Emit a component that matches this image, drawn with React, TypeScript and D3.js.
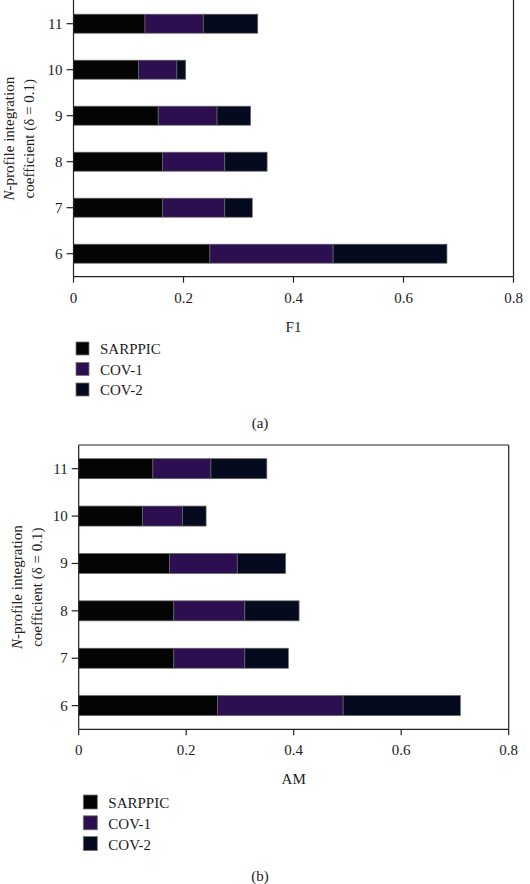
import React from "react";
import * as d3 from "d3";

const categories = ["6", "7", "8", "9", "10", "11"];
const seriesNames = ["SARPPIC", "COV-1", "COV-2"];
const seriesColors = ["#040404", "#2c0f50", "#060a1f"];

// Panel (a) F1 — segment values per category (6..11)
const f1Sarppic = [0.248, 0.162, 0.162, 0.154, 0.118, 0.130];
const f1Cov1 = [0.224, 0.113, 0.113, 0.107, 0.070, 0.106];
const f1Cov2 = [0.207, 0.050, 0.077, 0.061, 0.016, 0.099];

// Panel (b) AM — segment values per category (6..11)
const amSarppic = [0.258, 0.177, 0.177, 0.169, 0.119, 0.138];
const amCov1 = [0.234, 0.132, 0.132, 0.126, 0.074, 0.108];
const amCov2 = [0.218, 0.081, 0.101, 0.090, 0.044, 0.104];

const xTicks = [0, 0.2, 0.4, 0.6, 0.8];
const xTickLabels = ["0", "0.2", "0.4", "0.6", "0.8"];

const FONT = "'Liberation Serif', 'Times New Roman', serif";

type PanelProps = {
  values: number[][];
  xLabel: string;
  caption: string;
  left: number;
  right: number;
  top: number;
  bottom: number;
  barH: number;
  topBorder: boolean;
  yl1: number;
  yl2: number;
  legendX: number;
  legendY: number;
  legendSize: number;
  legendStep: number;
  captionY: number;
};

function Panel(p: PanelProps) {
  const x = d3.scaleLinear().domain([0, 0.8]).range([p.left, p.right]);
  const y = d3
    .scaleBand<string>()
    .domain(categories)
    .range([p.bottom, p.top])
    .paddingInner(0)
    .paddingOuter(0);
  const bw = y.bandwidth();
  const data = categories.map((c, i) => {
    const o: any = { cat: c };
    seriesNames.forEach((s, j) => (o[s] = p.values[j][i]));
    return o;
  });
  const stack = d3.stack<any>().keys(seriesNames)(data);
  const midY = (p.top + p.bottom) / 2;
  return (
    <g fontFamily={FONT} fill="#222">
      {stack.map((layer, j) =>
        layer.map((d, i) => (
          <rect
            key={`${j}-${i}`}
            x={x(d[0])}
            width={x(d[1]) - x(d[0])}
            y={(y(categories[i]) as number) + bw / 2 - p.barH / 2}
            height={p.barH}
            fill={seriesColors[j]}
            stroke="#666"
            strokeWidth={0.7}
          />
        ))
      )}
      {/* frame */}
      <line x1={p.left} x2={p.left} y1={p.top - (p.topBorder ? 0 : 2)} y2={p.bottom} stroke="#222" strokeWidth={1.2} />
      <line x1={p.right} x2={p.right} y1={p.top - (p.topBorder ? 0 : 2)} y2={p.bottom} stroke="#222" strokeWidth={1.2} />
      <line x1={p.left} x2={p.right} y1={p.bottom} y2={p.bottom} stroke="#222" strokeWidth={1.2} />
      {p.topBorder && <line x1={p.left} x2={p.right} y1={p.top} y2={p.top} stroke="#222" strokeWidth={1.2} />}
      {/* x ticks */}
      {xTicks.map((t, i) => (
        <g key={t}>
          <line x1={x(t)} x2={x(t)} y1={p.bottom} y2={p.bottom + 6} stroke="#222" strokeWidth={1.2} />
          <text x={x(t)} y={p.bottom + 26} textAnchor="middle" fontSize={15}>
            {xTickLabels[i]}
          </text>
        </g>
      ))}
      {/* y ticks */}
      {categories.map((c) => {
        const cy = (y(c) as number) + bw / 2;
        return (
          <g key={c}>
            <line x1={p.left - 7} x2={p.left} y1={cy} y2={cy} stroke="#222" strokeWidth={1.2} />
            <text x={p.left - 11} y={cy + 5} textAnchor="end" fontSize={15}>
              {c}
            </text>
          </g>
        );
      })}
      {/* y label */}
      <text transform={`translate(${p.yl1},${midY}) rotate(-90)`} textAnchor="middle" fontSize={15}>
        <tspan fontStyle="italic">N</tspan>-profile integration
      </text>
      <text transform={`translate(${p.yl2},${midY}) rotate(-90)`} textAnchor="middle" fontSize={15}>
        coefficient (δ = 0.1)
      </text>
      {/* x label */}
      <text x={(p.left + p.right) / 2} y={p.bottom + 55} textAnchor="middle" fontSize={15}>
        {p.xLabel}
      </text>
      {/* legend */}
      {seriesNames.map((s, j) => (
        <g key={s}>
          <rect
            x={p.legendX}
            y={p.legendY + j * p.legendStep}
            width={p.legendSize}
            height={p.legendSize}
            fill={seriesColors[j]}
            stroke="#777"
            strokeWidth={0.8}
          />
          <text x={p.legendX + p.legendSize + 11} y={p.legendY + j * p.legendStep + p.legendSize - 1} fontSize={15}>
            {s}
          </text>
        </g>
      ))}
      <text x={260} y={p.captionY} textAnchor="middle" fontSize={15}>
        {p.caption}
      </text>
    </g>
  );
}

export default function App() {
  return (
    <svg
      width={530}
      height={884}
      style={{ position: "absolute", left: 0, top: 0, background: "#fff" }}
    >
      <rect width={530} height={884} fill="#fff" />
      <Panel
        values={[f1Sarppic, f1Cov1, f1Cov2]}
        xLabel="F1"
        caption="(a)"
        left={73.5}
        right={513.5}
        top={0.7}
        bottom={276.7}
        barH={19}
        topBorder={false}
        yl1={14}
        yl2={34}
        legendX={76}
        legendY={342}
        legendSize={13}
        legendStep={20.5}
        captionY={428}
      />
      <Panel
        values={[amSarppic, amCov1, amCov2]}
        xLabel="AM"
        caption="(b)"
        left={78.7}
        right={508.7}
        top={445}
        bottom={729.3}
        barH={20}
        topBorder={true}
        yl1={22}
        yl2={42}
        legendX={83.3}
        legendY={795}
        legendSize={14}
        legendStep={20.8}
        captionY={881}
      />
    </svg>
  );
}
